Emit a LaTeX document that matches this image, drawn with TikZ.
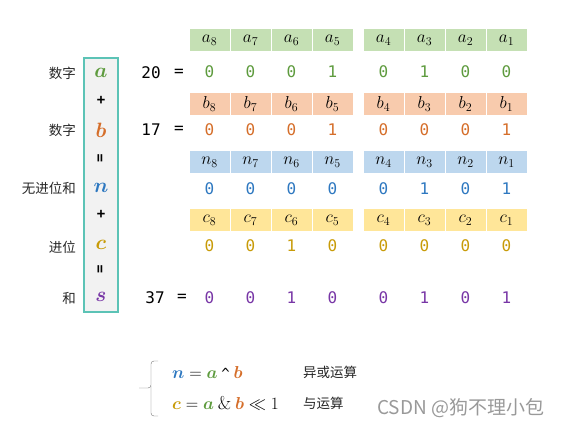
\documentclass[tikz,border=0pt]{standalone}
\usepackage{amsmath}
\usepackage{bm}
\usepackage{fontspec}
\usepackage{tikz}
\newfontfamily\cjk{Noto Sans CJK SC}
\newfontfamily\monofnt{DejaVu Sans Mono}

\definecolor{hdrA}{HTML}{C5E0B4}
\definecolor{hdrB}{HTML}{F8CBAD}
\definecolor{hdrN}{HTML}{BDD7EE}
\definecolor{hdrC}{HTML}{FFE699}
\definecolor{txtA}{HTML}{5E9B3E}
\definecolor{txtB}{HTML}{D56E2A}
\definecolor{txtN}{HTML}{2E78C0}
\definecolor{txtC}{HTML}{C89B08}
\definecolor{txtS}{HTML}{7836A6}
\definecolor{boxteal}{HTML}{5CC3B6}
\definecolor{boxgray}{HTML}{F2F2F2}

\tikzset{
  cell/.style={fill=#1, minimum width=40pt, minimum height=22pt, inner sep=0pt,
    font=\fontsize{17}{18}\selectfont},
  bit/.style={text=#1, inner sep=0pt, font=\monofnt\fontsize{16}{18}\selectfont},
  lbl/.style={anchor=east, inner sep=0pt, text=black!85, font=\cjk\fontsize{13.5}{15}\selectfont},
  sym/.style={inner sep=0pt, font=\fontsize{21}{22}\selectfont},
  formula/.style={anchor=west, inner sep=0pt, font=\fontsize{18.5}{20}\selectfont},
  op/.style={inner sep=0pt, font=\monofnt\bfseries\fontsize{14}{15}\selectfont}
}

\begin{document}
\begin{tikzpicture}[x=1pt,y=-1pt]
    \useasboundingbox (0,0) rectangle (563,428);

    % 左侧竖框
    \node[draw=boxteal, fill=boxgray, line width=1.2pt, minimum width=34pt,
      minimum height=254pt, inner sep=0pt] (box) at (101,185) {};
    \node[sym, text=txtA] (sa) at (101,73) {$\bm{a}$};
    \node[op] (p1) at (101,100) {+};
    \node[sym, text=txtB] (sb) at (101,130) {$\bm{b}$};
    \node[op, rotate=90] (q1) at (101,158) {=};
    \node[sym, text=txtN] (sn) at (101,188) {$\bm{n}$};
    \node[op] (p2) at (101,214) {+};
    \node[sym, text=txtC] (sc) at (101,245) {$\bm{c}$};
    \node[op, rotate=90] (q2) at (101,269) {=};
    \node[sym, text=txtS] (ss) at (101,297) {$\bm{s}$};

    % 左侧文字
    \node[lbl] (ta) at (76,73) {数字};
    \node[lbl] (tb) at (76,130) {数字};
    \node[lbl] (tn) at (76,188) {无进位和};
    \node[lbl] (tc) at (76,247) {进位};
    \node[lbl] (ts) at (76,298) {和};

    % 十进制数
    \node[bit=black] (va) at (151,73) {20};
    \node[bit=black] (ea) at (179,73) {=};
    \node[bit=black] (vb) at (151,130) {17};
    \node[bit=black] (eb) at (179,130) {=};
    \node[bit=black] (vs) at (155,298) {37};
    \node[bit=black] (es) at (182,298) {=};

    % 表头
    \foreach \nm/\col/\y in {a/hdrA/40.5, b/hdrB/104, n/hdrN/162, c/hdrC/220}
    {
        \foreach \k in {0,...,7}
        {
            \pgfmathtruncatemacro{\i}{8-\k}
            \pgfmathsetmacro{\xx}{209.5+41*\k+10*(\k>3)}
            \node[cell=\col] (\nm-h\i) at (\xx,\y) {$\nm_{\i}$};
        }
    }

    % 各位的值
    \foreach \b [count=\k from 0] in {0,0,0,1,0,1,0,0}
    {
        \pgfmathsetmacro{\xx}{209.5+41*\k+10*(\k>3)}
        \node[bit=txtA] (a-d\k) at (\xx,72) {\b};
    }
    \foreach \b [count=\k from 0] in {0,0,0,1,0,0,0,1}
    {
        \pgfmathsetmacro{\xx}{209.5+41*\k+10*(\k>3)}
        \node[bit=txtB] (b-d\k) at (\xx,130) {\b};
    }
    \foreach \b [count=\k from 0] in {0,0,0,0,0,1,0,1}
    {
        \pgfmathsetmacro{\xx}{209.5+41*\k+10*(\k>3)}
        \node[bit=txtN] (n-d\k) at (\xx,189) {\b};
    }
    \foreach \b [count=\k from 0] in {0,0,1,0,0,0,0,0}
    {
        \pgfmathsetmacro{\xx}{209.5+41*\k+10*(\k>3)}
        \node[bit=txtC] (c-d\k) at (\xx,246) {\b};
    }
    \foreach \b [count=\k from 0] in {0,0,1,0,0,1,0,1}
    {
        \pgfmathsetmacro{\xx}{209.5+41*\k+10*(\k>3)}
        \node[bit=txtS] (s-d\k) at (\xx,298) {\b};
    }

    % 公式
    \draw[black!55, rounded corners=3pt] (158,361) -| (151,388) -- (139,388);
    \draw[black!55, rounded corners=3pt] (151,386) |- (158,416);
    \node[formula] (fn) at (172,372)
      {${\color{txtN}\bm{n}} = {\color{txtA}\bm{a}} \mathbin{\text{\monofnt\fontsize{14}{15}\selectfont\textasciicircum}} {\color{txtB}\bm{b}}$};
    \node[formula] (fc) at (172,403)
      {${\color{txtC}\bm{c}} = {\color{txtA}\bm{a}} \mathbin{\&} {\color{txtB}\bm{b}} \ll 1$};
    \node[lbl, anchor=west] (xn) at (303,372) {异或运算};
    \node[lbl, anchor=west] (xc) at (303,403) {与运算};

    % 水印
    \node[anchor=west, inner sep=0pt, text=black!40, font=\cjk\fontsize{19}{21}\selectfont]
      (wm) at (377,408) {CSDN @狗不理小包};
\end{tikzpicture}
\end{document}
